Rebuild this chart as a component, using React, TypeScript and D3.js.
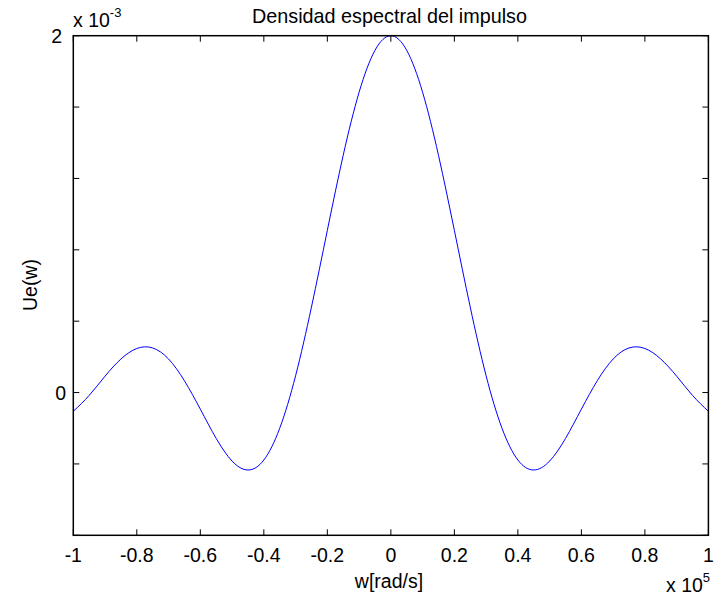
import React from "react";
import * as d3 from "d3";

// w in units of 1e5 rad/s
const wValues = [
  -1.0, -0.95, -0.9, -0.85, -0.8, -0.75, -0.7, -0.65, -0.6, -0.55, -0.5,
  -0.45, -0.4, -0.35, -0.3, -0.25, -0.2, -0.15, -0.1, -0.05, 0.0,
  0.05, 0.1, 0.15, 0.2, 0.25, 0.3, 0.35, 0.4, 0.45, 0.5,
  0.55, 0.6, 0.65, 0.7, 0.75, 0.8, 0.85, 0.9, 0.95, 1.0,
];
// Ue(w) in units of 1e-3
const ueValues = [
  -0.105, -0.016, 0.092, 0.188, 0.247, 0.25, 0.188, 0.066, -0.093, -0.257, -0.384,
  -0.434, -0.378, -0.2, 0.094, 0.479, 0.909, 1.33, 1.683, 1.918, 2.0,
  1.918, 1.683, 1.33, 0.909, 0.479, 0.094, -0.2, -0.378, -0.434, -0.384,
  -0.257, -0.093, 0.066, 0.188, 0.25, 0.247, 0.188, 0.092, -0.016, -0.105,
];
const xTicks = [-1, -0.8, -0.6, -0.4, -0.2, 0, 0.2, 0.4, 0.6, 0.8, 1];
const xTickLabels = ["-1", "-0.8", "-0.6", "-0.4", "-0.2", "0", "0.2", "0.4", "0.6", "0.8", "1"];
const yTicks = [-0.8, -0.4, 0, 0.4, 0.8, 1.2, 1.6, 2.0];
const yTickLabels: Record<string, string> = { "0": "0", "2": "2" };
const titleText = "Densidad espectral del impulso";
const xLabelText = "w[rad/s]";
const yLabelText = "Ue(w)";

const W = 724;
const H = 597;
const L = 73.3, R = 708.4, T = 35.7, B = 535.3;
const FONT = "Arial, 'Liberation Sans', Helvetica, sans-serif";
const FS = 19.5;

export default function App() {
  const x = d3.scaleLinear().domain([-1, 1]).range([L, R]);
  const y = d3.scaleLinear().domain([-0.8, 2]).range([B, T]);
  const pts: [number, number][] = wValues.map((w, i) => [w, ueValues[i]]);
  const line = d3
    .line<[number, number]>()
    .x((d) => x(d[0]))
    .y((d) => y(d[1]))
    .curve(d3.curveNatural);
  const tl = 6;
  return (
    <svg
      width={W}
      height={H}
      style={{ position: "absolute", left: 0, top: 0, background: "#fff" }}
      fontFamily={FONT}
    >
      <rect x={0} y={0} width={W} height={H} fill="#fff" />
      <path d={line(pts) || ""} fill="none" stroke="#0000ff" strokeWidth={1} />
      <rect x={L} y={T} width={R - L} height={B - T} fill="none" stroke="#000" strokeWidth={1.5} />
      {xTicks.map((t, i) => (
        <g key={"xt" + i}>
          <line x1={x(t)} x2={x(t)} y1={B} y2={B - tl} stroke="#000" strokeWidth={1} />
          <line x1={x(t)} x2={x(t)} y1={T} y2={T + tl} stroke="#000" strokeWidth={1} />
          <text x={x(t)} y={561.5} fontSize={FS} textAnchor="middle" fill="#000">
            {xTickLabels[i]}
          </text>
        </g>
      ))}
      {yTicks.map((t, i) => {
        const key = String(Math.round(t * 10) / 10);
        const lab = yTickLabels[key];
        return (
          <g key={"yt" + i}>
            <line x1={L} x2={L + tl} y1={y(t)} y2={y(t)} stroke="#000" strokeWidth={1} />
            <line x1={R} x2={R - tl} y1={y(t)} y2={y(t)} stroke="#000" strokeWidth={1} />
            {lab ? (
              <text
                x={lab === "2" ? 62 : 66}
                y={y(t) + 7}
                fontSize={FS}
                textAnchor="end"
                fill="#000"
              >
                {lab}
              </text>
            ) : null}
          </g>
        );
      })}
      <text x={389.5} y={22.5} fontSize={19.8} textAnchor="middle" fill="#000">
        {titleText}
      </text>
      <text x={389} y={588} fontSize={FS} textAnchor="middle" fill="#000">
        {xLabelText}
      </text>
      <text
        transform={`translate(36.5,285) rotate(-90)`}
        fontSize={FS}
        textAnchor="middle"
        fill="#000"
      >
        {yLabelText}
      </text>
      <text x={73} y={26.7} fontSize={FS} fill="#000">
        x 10
        <tspan dy={-9.5} fontSize={13}>-3</tspan>
      </text>
      <text x={666} y={591.5} fontSize={FS} fill="#000">
        x 10
        <tspan dy={-9.5} fontSize={13}>5</tspan>
      </text>
    </svg>
  );
}
